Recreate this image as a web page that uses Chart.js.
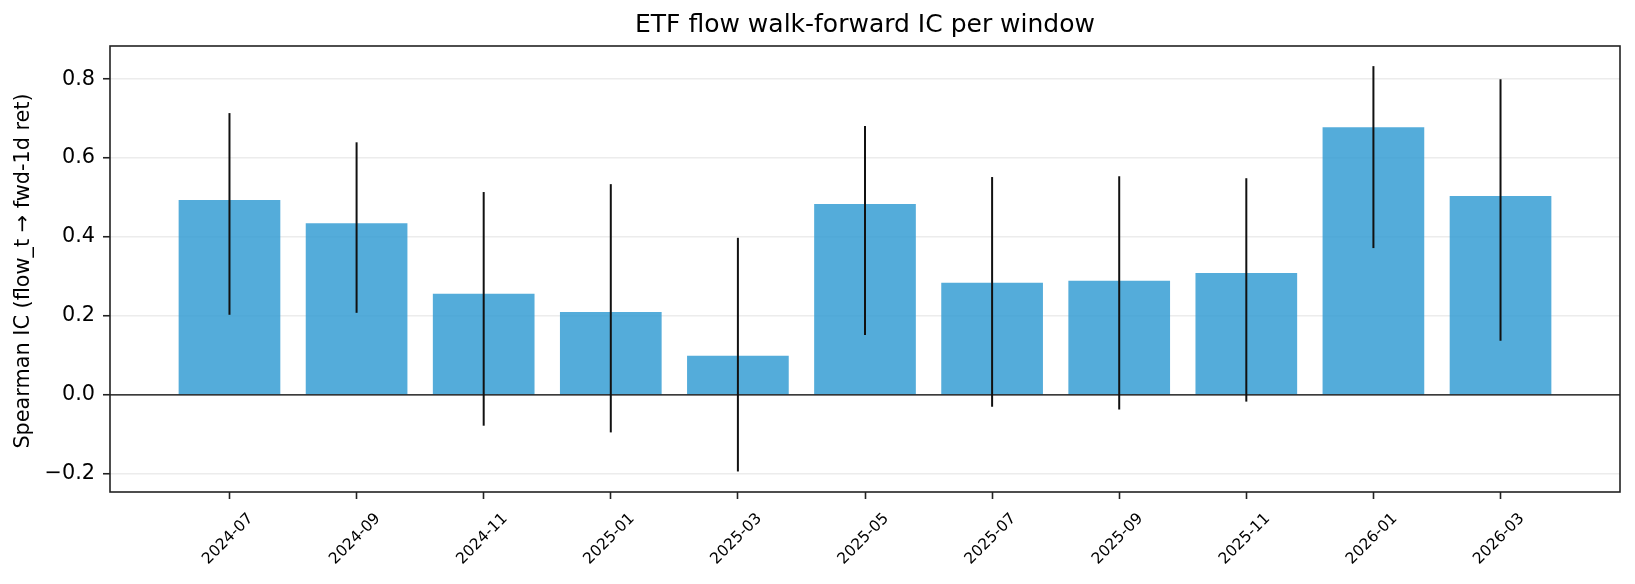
<!DOCTYPE html>
<html>
<head>
<meta charset="utf-8">
<script src="https://cdn.jsdelivr.net/npm/chart.js@4"></script>
<style>
	body { margin: 0; background: #fff; }
	canvas { display: block; }
</style>
</head>
<body>
<canvas id="chart" width="1635" height="584"></canvas>
<script>
// walk-forward windows and their IC
const windows = ['2024-07', '2024-09', '2024-11', '2025-01', '2025-03', '2025-05', '2025-07', '2025-09', '2025-11', '2026-01', '2026-03'];
const ic = [0.494, 0.435, 0.256, 0.210, 0.099, 0.484, 0.284, 0.289, 0.309, 0.678, 0.504];
const ciLow = [0.203, 0.208, -0.078, -0.095, -0.194, 0.152, -0.030, -0.037, -0.017, 0.372, 0.137];
const ciHigh = [0.714, 0.640, 0.514, 0.534, 0.398, 0.681, 0.552, 0.554, 0.549, 0.833, 0.800];
const yTicks = [-0.2, 0.0, 0.2, 0.4, 0.6, 0.8];

const titleText = 'ETF flow walk-forward IC per window';
const yLabelText = 'Spearman IC (flow_t \u2192 fwd-1d ret)';

const fontFamily = '"DejaVu Sans", sans-serif';
const axisColor = '#222';

function formatTick(v) {
	const s = Math.abs(v).toFixed(1);
	return v < -1e-9 ? '\u2212' + s : s;
}

// error bars, zero line, frame, title and rotated x labels
const extras = {
	id: 'extras',
	afterDatasetsDraw(chart) {
		const ctx = chart.ctx;
		const x = chart.scales.x;
		const y = chart.scales.y;
		const area = chart.chartArea;

		ctx.save();

		// zero line
		const y0 = y.getPixelForValue(0);
		ctx.strokeStyle = '#000';
		ctx.lineWidth = 1.2;
		ctx.beginPath();
		ctx.moveTo(area.left, y0);
		ctx.lineTo(area.right, y0);
		ctx.stroke();

		// error bars
		ctx.strokeStyle = '#111';
		ctx.lineWidth = 2;
		for (let i = 0; i < windows.length; i++) {
			const px = x.getPixelForValue(i);
			ctx.beginPath();
			ctx.moveTo(px, y.getPixelForValue(ciLow[i]));
			ctx.lineTo(px, y.getPixelForValue(ciHigh[i]));
			ctx.stroke();
		}

		// axes frame
		ctx.strokeStyle = axisColor;
		ctx.lineWidth = 1.6;
		ctx.strokeRect(area.left, area.top, area.right - area.left, area.bottom - area.top);

		ctx.restore();
	},
	afterDraw(chart) {
		const ctx = chart.ctx;
		const x = chart.scales.x;
		const area = chart.chartArea;

		ctx.save();
		ctx.fillStyle = '#000';

		// title
		ctx.font = '25px ' + fontFamily;
		ctx.textAlign = 'center';
		ctx.textBaseline = 'alphabetic';
		ctx.fillText(titleText, (area.left + area.right) / 2, 32);

		// y axis label
		ctx.save();
		ctx.font = '20.8px ' + fontFamily;
		ctx.translate(29, (area.top + area.bottom) / 2 + 2);
		ctx.rotate(-Math.PI / 2);
		ctx.fillText(yLabelText, 0, 0);
		ctx.restore();

		// x tick labels, rotated 45 deg and centered under the tick
		ctx.font = '15.5px ' + fontFamily;
		ctx.textBaseline = 'middle';
		windows.forEach((label, i) => {
			ctx.save();
			ctx.translate(x.getPixelForValue(i) - 1.5, 539);
			ctx.rotate(-Math.PI / 4);
			ctx.fillText(label, 0, 0);
			ctx.restore();
		});

		ctx.restore();
	}
};

const chart = new Chart(document.getElementById('chart').getContext('2d'), {
	type: 'bar',
	data: {
		datasets: [{
			data: ic.map((v, i) => ({ x: i, y: v })),
			backgroundColor: 'rgba(54, 158, 211, 0.85)',
			borderWidth: 0,
			barPercentage: 0.8,
			categoryPercentage: 1.0
		}]
	},
	options: {
		responsive: false,
		animation: false,
		layout: {
			padding: { top: 46, right: 15, bottom: 0, left: 0 }
		},
		plugins: {
			legend: { display: false },
			title: { display: false },
			tooltip: { enabled: false }
		},
		scales: {
			x: {
				type: 'linear',
				offset: false,
				min: -0.94,
				max: windows.length - 1 + 0.94,
				afterBuildTicks: (scale) => {
					scale.ticks = windows.map((_, i) => ({ value: i }));
				},
				afterFit: (scale) => {
					scale.height = 92;
				},
				ticks: { display: false },
				grid: {
					offset: false,
					drawOnChartArea: false,
					drawTicks: true,
					tickLength: 7,
					tickColor: axisColor,
					tickWidth: 1.6
				},
				border: { display: false }
			},
			y: {
				min: -0.246,
				max: 0.884,
				afterBuildTicks: (scale) => {
					scale.ticks = yTicks.map(v => ({ value: v }));
				},
				afterFit: (scale) => {
					scale.width = 110;
				},
				ticks: {
					color: '#000',
					padding: 8,
					font: { family: fontFamily, size: 20.8 },
					callback: (v) => formatTick(v)
				},
				grid: {
					color: '#ececec',
					lineWidth: 1.5,
					drawTicks: true,
					tickLength: 7,
					tickColor: axisColor,
					tickWidth: 1.6
				},
				border: { display: false }
			}
		}
	},
	plugins: [extras]
});
</script>
</body>
</html>
